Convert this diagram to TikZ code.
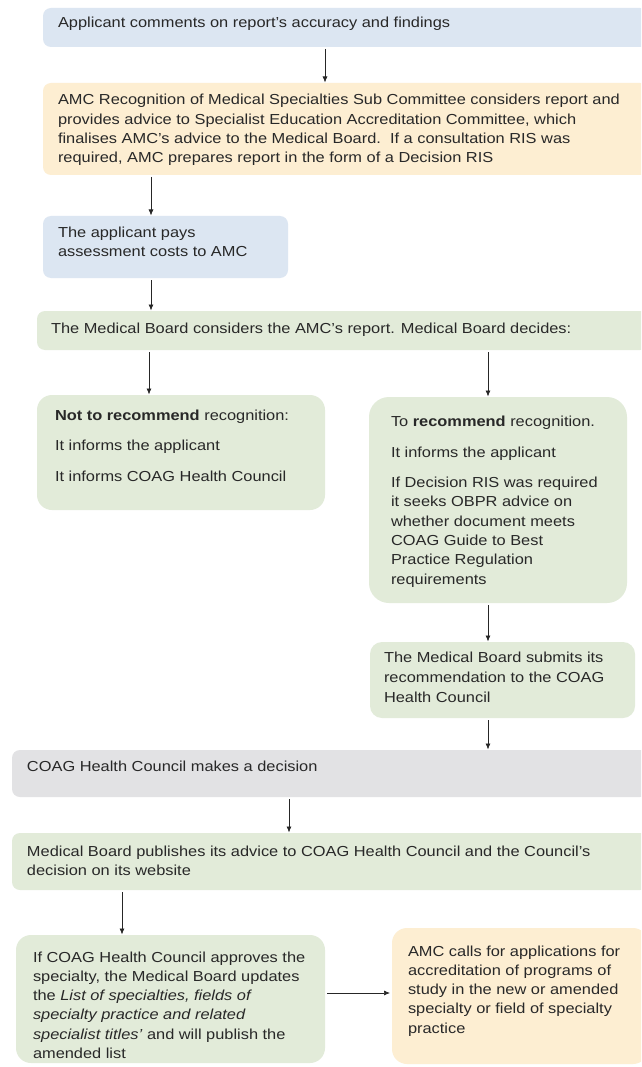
\documentclass[tikz,border=0pt]{standalone}
\usepackage{fontspec}
\setmainfont{Liberation Sans}[FakeStretch=1.13]
\usetikzlibrary{arrows.meta}
\definecolor{cblue}{RGB}{220,230,242}
\definecolor{corange}{RGB}{253,238,210}
\definecolor{cgreen}{RGB}{226,235,217}
\definecolor{cgray}{RGB}{226,226,228}
\definecolor{ctext}{RGB}{40,40,40}
\begin{document}
\begin{tikzpicture}[x=1pt,y=-1pt,
  font=\fontsize{14.5pt}{19.3pt}\selectfont, text=ctext,
  box/.style={anchor=north west, inner ysep=0pt, outer sep=0pt},
  arr/.style={-{Latex[length=6pt,width=5pt]}, line width=0.7pt, draw=black!85, shorten <=2pt, shorten >=0.5pt}]
\clip (0,0) rectangle (641,1067);
\fill[white] (0,0) rectangle (641,1067);

\node[box, fill=cblue, rounded corners=8pt, inner xsep=15pt] (b1) at (43,8)
  {\parbox[t][39pt][t]{575pt}{\rule{0pt}{19.5pt}Applicant comments on report's accuracy and findings}};

\node[box, fill=corange, rounded corners=8pt, inner xsep=15pt] (b2) at (43,83)
  {\parbox[t][92pt][t]{575pt}{\rule{0pt}{22pt}AMC Recognition of Medical Specialties Sub Committee considers report and\\
  provides advice to Specialist Education Accreditation Committee, which\\
  finalises AMC's advice to the Medical Board.\ \ If a consultation RIS was\\
  required, AMC prepares report in the form of a Decision RIS}};

\node[box, fill=cblue, rounded corners=8pt, inner xsep=15pt] (b3) at (43,216)
  {\parbox[t][62pt][t]{215pt}{\rule{0pt}{21pt}The applicant pays\\ assessment costs to AMC}};

\node[box, fill=cgreen, rounded corners=8pt, inner xsep=14pt] (b4) at (37,311)
  {\parbox[t][39pt][t]{583pt}{\rule{0pt}{22pt}The Medical Board considers the AMC's report. Medical Board decides:}};

\node[box, fill=cgreen, rounded corners=15pt, inner xsep=18pt] (b5) at (37,395)
  {\parbox[t][115pt][t]{252pt}{\rule{0pt}{25pt}\textbf{Not to recommend} recognition:\\[11pt]
  It informs the applicant\\[11.5pt]
  It informs COAG Health Council}};

\node[box, fill=cgreen, rounded corners=20pt, inner xsep=22pt] (b6) at (369,397)
  {\parbox[t][206pt][t]{214pt}{\rule{0pt}{29pt}To \textbf{recommend} recognition.\\[12pt]
  It informs the applicant\\[11pt]
  If Decision RIS was required\\
  it seeks OBPR advice on\\
  whether document meets\\
  COAG Guide to Best\\
  Practice Regulation\\
  requirements}};

\node[box, fill=cgreen, rounded corners=12pt, inner xsep=14pt] (b7) at (370,642)
  {\parbox[t][76pt][t]{237pt}{\rule{0pt}{20pt}The Medical Board submits its\\[1pt]
  recommendation to the COAG\\[1pt]
  Health Council}};

\node[box, fill=cgray, rounded corners=8pt, inner xsep=15pt] (b8) at (12,750)
  {\parbox[t][47pt][t]{606pt}{\rule{0pt}{21pt}COAG Health Council makes a decision}};

\node[box, fill=cgreen, rounded corners=8pt, inner xsep=15pt] (b9) at (12,833)
  {\parbox[t][57pt][t]{606pt}{\rule{0pt}{23pt}Medical Board publishes its advice to COAG Health Council and the Council's\\
  decision on its website}};

\node[box, fill=cgreen, rounded corners=15pt, inner xsep=17pt] (b10) at (16,935)
  {\parbox[t][128pt][t]{275pt}{\rule{0pt}{27pt}If COAG Health Council approves the\\
  specialty, the Medical Board updates\\
  the \textit{List of specialties, fields of}\\
  \textit{specialty practice and related}\\
  \textit{specialist titles'} and will publish the\\
  amended list}};

\node[box, fill=corange, rounded corners=15pt, inner xsep=16pt] (b11) at (392,928)
  {\parbox[t][136pt][t]{224pt}{\rule{0pt}{28pt}AMC calls for applications for\\
  accreditation of programs of\\
  study in the new or amended\\
  specialty or field of specialty\\
  practice}};

\draw[arr] ([xshift=282pt]b1.south west) -- ([xshift=282pt]b2.north west);
\draw[arr] ([xshift=108pt]b2.south west) -- ([xshift=108pt]b3.north west);
\draw[arr] ([xshift=108pt]b3.south west) -- ([xshift=114pt]b4.north west);
\draw[arr] ([xshift=112pt]b4.south west) -- ([xshift=112pt]b5.north west);
\draw[arr] ([xshift=451pt]b4.south west) -- ([xshift=119pt]b6.north west);
\draw[arr] ([xshift=119pt]b6.south west) -- ([xshift=118pt]b7.north west);
\draw[arr] ([xshift=118pt]b7.south west) -- ([xshift=476pt]b8.north west);
\draw[arr] ([xshift=277pt]b8.south west) -- ([xshift=277pt]b9.north west);
\draw[arr] ([xshift=110pt]b9.south west) -- ([xshift=106pt]b10.north west);
\draw[arr, shorten >=2pt] ([yshift=6pt]b10.east) -- ([yshift=3pt]b11.west);
\end{tikzpicture}
\end{document}
